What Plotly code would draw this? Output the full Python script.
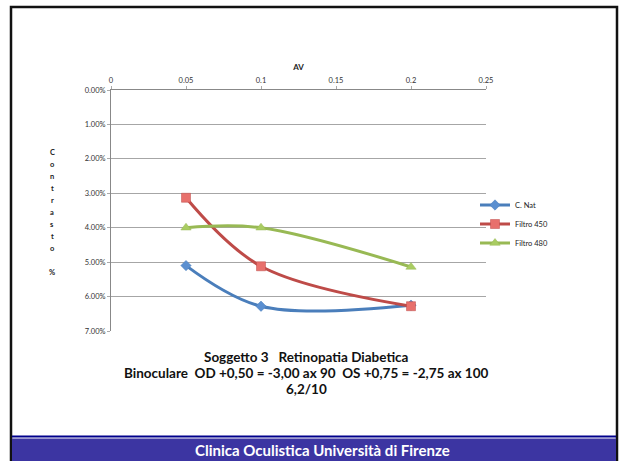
import plotly.graph_objects as go

av = [0.05, 0.1, 0.2]
c_nat = [0.0510, 0.0628, 0.0625]
filtro_450 = [0.0313, 0.0512, 0.0628]
filtro_480 = [0.0400, 0.0400, 0.0514]
series_names = ["C. Nat", "Filtro 450", "Filtro 480"]
x_ticks = [0, 0.05, 0.1, 0.15, 0.2, 0.25]
x_tick_labels = ["0", "0.05", "0.1", "0.15", "0.2", "0.25"]
y_ticks = [0, 0.01, 0.02, 0.03, 0.04, 0.05, 0.06, 0.07]

W, H = 620, 461
L, R, T, B = 111, 486, 90, 331

def px(x):
    return (x - L) / (R - L)

def py(y):
    return (B - y) / (B - T)

fig = go.Figure()
styles = [
    dict(color="#4a7ebb", symbol="diamond", mfill="#5b8fd0", size=8),
    dict(color="#be4b48", symbol="square", mfill="#e8706c", size=9),
    dict(color="#98b954", symbol="triangle-up", mfill="#a9cc62", size=9),
]
for name, vals, st in zip(series_names, [c_nat, filtro_450, filtro_480], styles):
    fig.add_trace(go.Scatter(
        x=av, y=vals, name=name, mode="lines+markers",
        line=dict(color=st["color"], width=3, shape="spline", smoothing=1.0),
        marker=dict(symbol=st["symbol"], size=st["size"], color=st["mfill"],
                    line=dict(color=st["color"], width=0.5)),
    ))

fig.update_layout(
    width=W, height=H,
    margin=dict(l=L, r=W - R, t=T, b=H - B, pad=0),
    paper_bgcolor="white", plot_bgcolor="white",
    font=dict(family="Lato, Liberation Sans, sans-serif", color="#333"),
    showlegend=True,
    legend=dict(x=px(475), y=py(224), xanchor="left", yanchor="middle",
                font=dict(size=7.5, color="#222"), tracegroupgap=0,
                itemwidth=30, bgcolor="rgba(0,0,0,0)"),
    xaxis=dict(side="top", range=[0, 0.25], tickvals=x_ticks, ticktext=x_tick_labels,
               showgrid=False, zeroline=False, showline=True, linecolor="#888", linewidth=1,
               ticks="outside", ticklen=3, tickcolor="#aaa", tickfont=dict(size=7.5, color="#333"),
               title=dict(text="<b>AV</b>", font=dict(size=8, color="#222"), standoff=4),
               fixedrange=True),
    yaxis=dict(range=[0.07, 0], tickvals=y_ticks, tickformat=".2%",
               showgrid=True, gridcolor="#a6a6a6", gridwidth=1, zeroline=False,
               showline=True, linecolor="#888", linewidth=1,
               ticks="outside", ticklen=3, tickcolor="#aaa", tickfont=dict(size=7.5, color="#333"),
               fixedrange=True),
)

shapes = []
# slide frame
shapes.append(dict(type="rect", xref="paper", yref="paper",
                   x0=px(11), x1=px(617), y0=py(480), y1=py(7),
                   line=dict(color="#111", width=2.5), fillcolor="rgba(0,0,0,0)", layer="below"))
# footer band
shapes.append(dict(type="rect", xref="paper", yref="paper",
                   x0=px(12), x1=px(616), y0=py(470), y1=py(438.5),
                   line=dict(width=0), fillcolor="#3c35a2"))
shapes.append(dict(type="line", xref="paper", yref="paper",
                   x0=px(12), x1=px(616), y0=py(436.5), y1=py(436.5),
                   line=dict(color="#00008b", width=2)))
fig.update_layout(shapes=shapes)

ann = []
# y-axis title stacked vertically
letters = ["C", "o", "n", "t", "r", "a", "s", "t", "o", "", "%"]
for i, ch in enumerate(letters):
    if not ch:
        continue
    ann.append(dict(xref="paper", yref="paper", x=px(52), y=py(152 + i * 12), text="<b>" + ch + "</b>",
                    showarrow=False, font=dict(size=7.5, color="#222"), xanchor="center", yanchor="middle"))
title_lines = ["Soggetto 3   Retinopatia Diabetica",
               "Binoculare  OD +0,50 = -3,00 ax 90  OS +0,75 = -2,75 ax 100",
               "6,2/10"]
for i, (line, yy) in enumerate(zip(title_lines, [357, 373, 389])):
    ann.append(dict(xref="paper", yref="paper", x=px(306), y=py(yy), text="<b>" + line.replace("  ", "&nbsp; ") + "</b>",
                    showarrow=False, font=dict(size=13.5, color="#111"), xanchor="center", yanchor="middle"))
ann.append(dict(xref="paper", yref="paper", x=px(322), y=py(450),
                text="<b>Clinica Oculistica Università di Firenze</b>",
                showarrow=False, font=dict(size=15, color="white"), xanchor="center", yanchor="middle"))
fig.update_layout(annotations=ann)

fig.write_html("out.html", config={"displayModeBar": False},
               post_script="document.body.style.margin='0';document.body.style.overflow='hidden';")
